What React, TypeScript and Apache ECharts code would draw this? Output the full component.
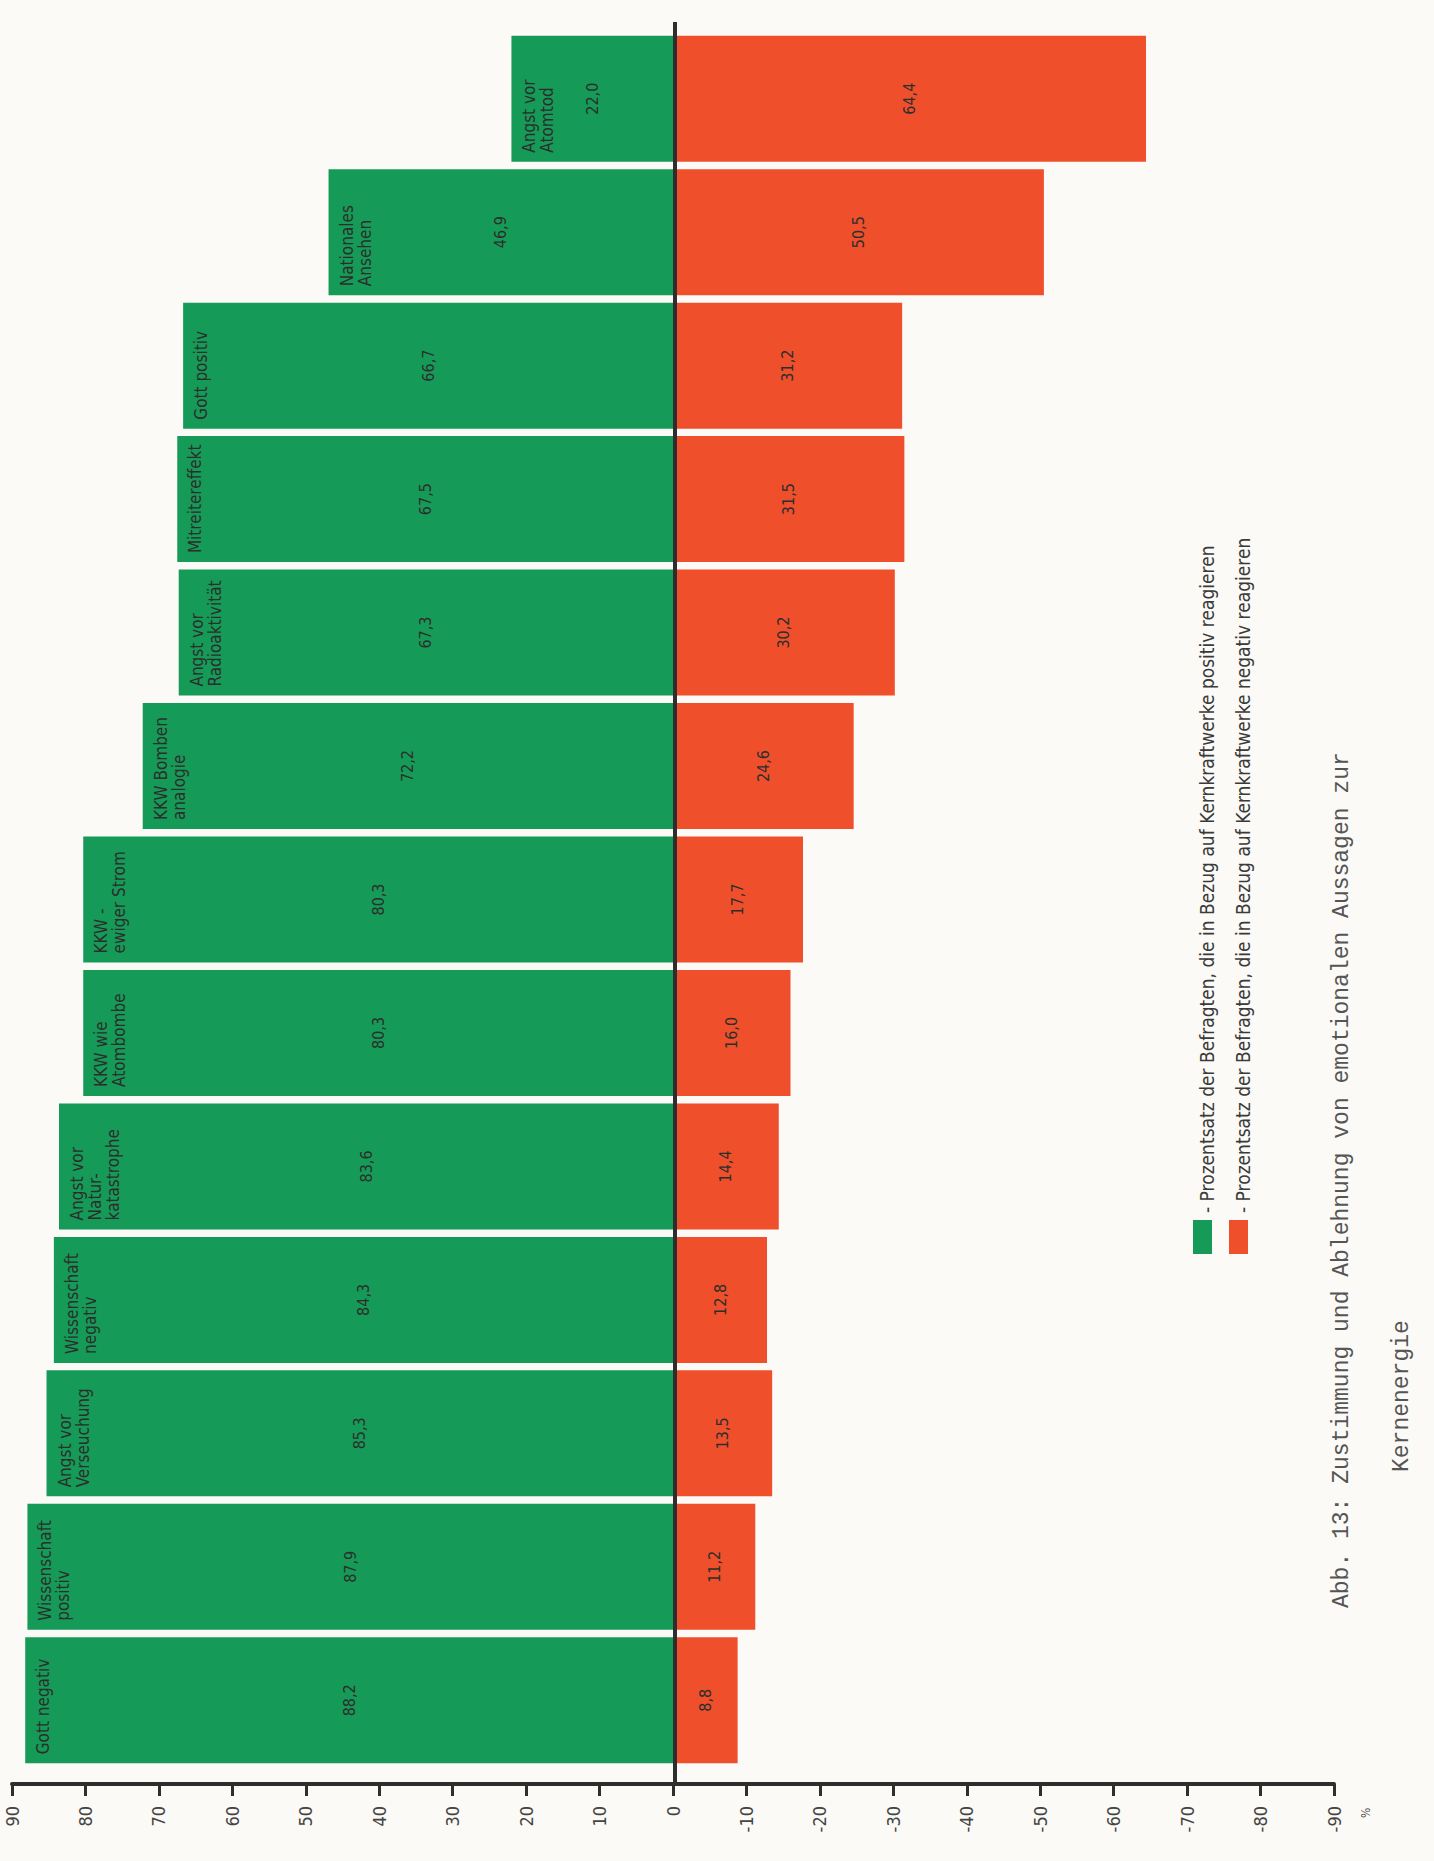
import { useEffect, useRef } from "react";
import * as echarts from "echarts";

// Statements, listed from the bottom row of the chart to the top row
const categories = [
  "Gott negativ",
  "Wissenschaft positiv",
  "Angst vor Verseuchung",
  "Wissenschaft negativ",
  "Angst vor Naturkatastrophe",
  "KKW wie Atombombe",
  "KKW - ewiger Strom",
  "KKW Bombenanalogie",
  "Angst vor Radioaktivität",
  "Mitreitereffekt",
  "Gott positiv",
  "Nationales Ansehen",
  "Angst vor Atomtod",
];

// How each statement is broken into lines inside its bar
const categoryLines = [
  "Gott negativ",
  "Wissenschaft\npositiv",
  "Angst vor\nVerseuchung",
  "Wissenschaft\nnegativ",
  "Angst vor\nNatur-\nkatastrophe",
  "KKW wie\nAtombombe",
  "KKW -\newiger Strom",
  "KKW Bomben\nanalogie",
  "Angst vor\nRadioaktivität",
  "Mitreitereffekt",
  "Gott positiv",
  "Nationales\nAnsehen",
  "Angst vor\nAtomtod",
];

// Share of respondents reacting positively towards nuclear power plants (%)
const positiveShares = [88.2, 87.9, 85.3, 84.3, 83.6, 80.3, 80.3, 72.2, 67.3, 67.5, 66.7, 46.9, 22.0];
// Share of respondents reacting negatively towards nuclear power plants (%)
const negativeShares = [8.8, 11.2, 13.5, 12.8, 14.4, 16.0, 17.7, 24.6, 30.2, 31.5, 31.2, 50.5, 64.4];

const legendTexts = [
  "- Prozentsatz der Befragten, die in Bezug auf Kernkraftwerke positiv reagieren",
  "- Prozentsatz der Befragten, die in Bezug auf Kernkraftwerke negativ reagieren",
];
const titleLines = [
  "Abb. 13: Zustimmung und Ablehnung von emotionalen Aussagen zur",
  "Kernenergie",
];
const unitLabel = "%";

const GREEN = "#169a58";
const RED = "#f04f2c";
const INK = "#2b2f2c";
const NARROW = "'DejaVu Sans Condensed', 'Liberation Sans Narrow', 'Roboto Condensed', sans-serif";
const MONO = "'Liberation Mono', 'DejaVu Sans Mono', monospace";

const fmt = (v: number) => Math.abs(v).toFixed(1).replace(".", ",");

function staticGraphics(): any[] {
  const rot = Math.PI / 2;
  return [
    // legend swatches
    { type: "rect", id: "lg-g", shape: { x: 1193, y: 1220, width: 19, height: 34 }, style: { fill: GREEN } },
    { type: "rect", id: "lg-r", shape: { x: 1229, y: 1220, width: 19, height: 34 }, style: { fill: RED } },
    {
      type: "text", id: "lg-gt", x: 1207, y: 1213, rotation: rot,
      style: { text: legendTexts[0], font: `19px ${NARROW}`, fill: "#3a3a3a", align: "left", verticalAlign: "middle" },
    },
    {
      type: "text", id: "lg-rt", x: 1243, y: 1213, rotation: rot,
      style: { text: legendTexts[1], font: `19px ${NARROW}`, fill: "#3a3a3a", align: "left", verticalAlign: "middle" },
    },
    // caption
    {
      type: "text", id: "t1", x: 1342, y: 1608, rotation: rot,
      style: { text: titleLines[0], font: `23px ${MONO}`, fill: "#555", align: "left", verticalAlign: "middle" },
    },
    {
      type: "text", id: "t2", x: 1402, y: 1472, rotation: rot,
      style: { text: titleLines[1], font: `23px ${MONO}`, fill: "#555", align: "left", verticalAlign: "middle" },
    },
    // unit next to the value axis
    {
      type: "text", id: "unit", x: 1366, y: 1818, rotation: rot,
      style: { text: unitLabel, font: `12px ${NARROW}`, fill: "#555", align: "left", verticalAlign: "middle" },
    },
  ];
}

export default function App() {
  const ref = useRef<HTMLDivElement>(null);

  useEffect(() => {
    document.body.style.margin = "0";
    if (!ref.current) return;
    const chart = echarts.init(ref.current, null, { renderer: "svg" });

    const barWidth = 126;
    const valueLabel = {
      show: true,
      position: "inside",
      rotate: 90,
      formatter: (p: any) => fmt(p.value),
      color: INK,
      fontFamily: NARROW,
      fontSize: 16,
    };

    const option: any = {
      animation: false,
      backgroundColor: "#fbfaf6",
      grid: { left: 12, right: 100, top: 32, bottom: 94, containLabel: false },
      xAxis: {
        type: "value",
        inverse: true,
        min: -90,
        max: 90,
        interval: 10,
        position: "bottom",
        offset: 17,
        axisLine: { show: true, onZero: false, lineStyle: { color: "#2e2e2e", width: 4 } },
        axisTick: { show: true, length: 12, lineStyle: { color: "#2e2e2e", width: 3 } },
        axisLabel: {
          rotate: 90,
          margin: 22,
          color: "#444",
          fontFamily: NARROW,
          fontSize: 18,
          formatter: (v: number) => String(v),
        },
        splitLine: { show: false },
      },
      yAxis: {
        type: "category",
        data: categories,
        axisLine: { show: false },
        axisTick: { show: false },
        axisLabel: { show: false },
        splitLine: { show: false },
      },
      series: [
        {
          name: "positiv",
          type: "bar",
          stack: "share",
          data: positiveShares,
          barWidth,
          barGap: "-100%",
          itemStyle: { color: GREEN },
          label: valueLabel,
        },
        {
          name: "negativ",
          type: "bar",
          stack: "share",
          data: negativeShares.map((v) => -v),
          barWidth,
          barGap: "-100%",
          itemStyle: { color: RED },
          label: valueLabel,
        },
        {
          // statement names written at the far end of each green bar
          name: "Aussage",
          type: "bar",
          data: positiveShares,
          barWidth,
          barGap: "-100%",
          z: 5,
          silent: true,
          itemStyle: { color: "rgba(0,0,0,0)" },
          label: {
            show: true,
            position: "insideBottomLeft",
            distance: 9,
            rotate: 90,
            align: "left",
            verticalAlign: "top",
            formatter: (p: any) => categoryLines[p.dataIndex],
            color: INK,
            fontFamily: NARROW,
            fontSize: 17,
            lineHeight: 18,
          },
        },
      ],
      graphic: staticGraphics(),
    };

    chart.setOption(option);

    // zero line, placed through the value axis scale
    const x0 = chart.convertToPixel({ xAxisIndex: 0 }, 0) as number;
    chart.setOption({
      graphic: [
        ...staticGraphics(),
        {
          type: "line",
          id: "zero",
          z: 10,
          shape: { x1: x0 + 2, y1: 22, x2: x0 + 2, y2: 1784 },
          style: { stroke: "#2e2e2e", lineWidth: 4 },
        },
      ],
    });

    return () => chart.dispose();
  }, []);

  return <div ref={ref} style={{ width: 1434, height: 1861 }} />;
}
